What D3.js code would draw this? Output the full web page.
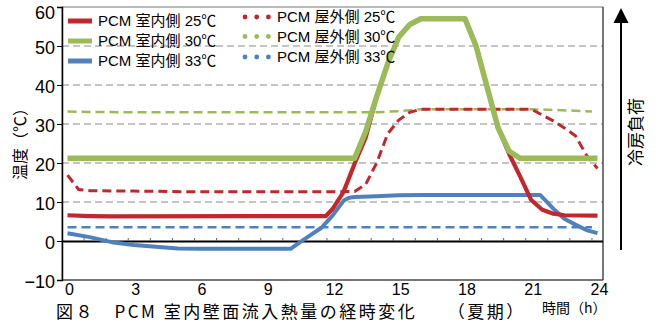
<!DOCTYPE html>
<html><head><meta charset="utf-8">
<script src="https://cdn.jsdelivr.net/npm/d3@7"></script>
<style>body{margin:0;background:#fff}svg{display:block}</style>
</head><body>
<svg id="c" width="659" height="323"></svg>
<script>
// ---- data ----
const xTicks = [0, 3, 6, 9, 12, 15, 18, 21, 24];
const yTicks = [-10, 0, 10, 20, 30, 40, 50, 60];
const gridValues = [10, 20, 30, 40, 50];
const hourMarks = d3.range(1, 25);

// indoor side (solid)
const in25 = [[0,6.6],[1,6.4],[2,6.3],[11.7,6.4],[12,8.2],[12.5,12.6],[13,19.8],[13.5,26.5],[14,37],[14.5,45.5],[15,52.3],[15.5,55.5],[16,57],[18,57],[18.5,50],[19,39.5],[19.5,29],[20,22.3],[20.5,16.5],[21,10.5],[21.5,8],[22,7],[22.5,6.6],[24,6.5]];
const in30 = [[0,21.2],[13,21.2],[13.5,28],[14,37],[14.5,45.5],[15,52.3],[15.5,55.5],[16,57],[18,57],[18.5,50],[19,39.5],[19.5,29],[20,23],[20.5,21.2],[24,21.2]];
const in33 = [[0,2],[1,1],[2,-0.3],[3,-1],[4,-1.5],[5,-1.9],[6,-2],[10.1,-2],[10.5,-0.4],[11,1.5],[11.5,3.4],[12,6.5],[12.5,10.3],[12.75,11.1],[13,11.3],[14,11.5],[15,11.7],[16,11.8],[21.4,11.8],[22,8.3],[22.5,5.7],[23,4.2],[23.5,2.8],[24,2.0]];
// outdoor side (dashed)
const out25 = [[0,16.9],[0.5,13.2],[1,12.9],[3,12.8],[6,12.6],[12,12.6],[13,12.7],[13.5,14.5],[14,20],[14.5,27.5],[15,31],[15.5,33],[16,33.8],[21,33.8],[21.5,32.3],[22,30.8],[22.5,29],[23,27],[23.5,22],[24,18.6]];
const out30 = [[0,33.2],[1,33.1],[3,33],[14,33],[15,33.3],[16,33.8],[21,33.8],[22,33.6],[23,33.4],[23.75,33.2]];
const out33 = [[0,3.5],[23.75,3.5]];

const solidNames = ["PCM 室内側 25℃", "PCM 室内側 30℃", "PCM 室内側 33℃"];
const dashNames  = ["PCM 屋外側 25℃", "PCM 屋外側 30℃", "PCM 屋外側 33℃"];
const colors = ["#c1272d", "#9bbb59", "#4f81bd"];

// ---- layout ----
const svg = d3.select("#c");
const L = 62, R = 603, T = 7, B = 280;
const x = d3.scaleLinear().domain([-0.25, 24.25]).range([L, R]);
const y = d3.scaleLinear().domain([-10, 60]).range([B, T]);
const latin = "'Liberation Sans Narrow','Liberation Sans','Noto Sans CJK JP',sans-serif";
const mixed = "'Liberation Sans','Noto Sans CJK JP',sans-serif";
const cjk = "'Noto Sans CJK JP',sans-serif";

// grid
svg.append("g").selectAll("line").data(gridValues).join("line")
  .attr("x1", L).attr("x2", R).attr("y1", d => y(d)).attr("y2", d => y(d))
  .attr("stroke", "#8a8a8a").attr("stroke-width", 1).attr("stroke-dasharray", "7,4");

// frame
svg.append("rect").attr("x", L).attr("y", T).attr("width", R - L).attr("height", B - T)
  .attr("fill", "none").attr("stroke", "#777").attr("stroke-width", 1);
svg.append("line").attr("x1", R).attr("x2", R).attr("y1", T).attr("y2", B).attr("stroke", "#333");
svg.append("line").attr("x1", L).attr("x2", R).attr("y1", B).attr("y2", B).attr("stroke", "#333");

// zero line and hour marks
svg.append("line").attr("x1", L).attr("x2", R).attr("y1", y(0) + 0.5).attr("y2", y(0) + 0.5)
  .attr("stroke", "#000").attr("stroke-width", 2);
svg.append("g").selectAll("line").data(hourMarks).join("line")
  .attr("x1", d => x(d - 0.25)).attr("x2", d => x(d - 0.25))
  .attr("y1", y(0)).attr("y2", y(0) - 3).attr("stroke", "#666").attr("stroke-width", 1);

// left axis
const yAxis = d3.axisLeft(y).tickValues(yTicks).tickSize(5).tickFormat(d => d < 0 ? "−" + Math.abs(d) : d);
const gy = svg.append("g").attr("transform", `translate(${L},0)`).call(yAxis);
gy.select(".domain").attr("stroke", "#000").attr("stroke-width", 1.5);
gy.selectAll(".tick line").attr("stroke", "#000");
gy.selectAll(".tick text").attr("font-family", latin).attr("font-size", 18).attr("fill", "#000")
  .attr("x", -7).attr("dy", "0.36em")
  .attr("y", d => Math.min(Math.max(y(d) + 1, 12), 286) - y(d));

// x labels
svg.append("g").selectAll("text").data(xTicks).join("text")
  .attr("x", d => x(d) + 2).attr("y", 295).attr("text-anchor", "middle")
  .attr("font-family", latin).attr("font-size", 16).attr("fill", "#000").text(d => d);

// series
const line = d3.line().x(d => x(d[0])).y(d => y(d[1]));
const dashed = [out33, out30, out25];
const dashColors = [colors[2], colors[1], colors[0]];
dashed.forEach((s, i) => {
  svg.append("path").datum(s).attr("d", line).attr("fill", "none")
    .attr("stroke", dashColors[i]).attr("stroke-width", i === 2 ? 3 : 2.5)
    .attr("stroke-dasharray", "9,5");
});
const solids = [[in33, colors[2], 4], [in25, colors[0], 4.2], [in30, colors[1], 5.5]];
solids.forEach(([s, c, w]) => {
  svg.append("path").datum(s).attr("d", line).attr("fill", "none")
    .attr("stroke", c).attr("stroke-width", w).attr("stroke-linejoin", "round");
});

// legend
const legRowsL = [21, 41, 61];
solidNames.forEach((n, i) => {
  svg.append("line").attr("x1", 68).attr("x2", 92).attr("y1", legRowsL[i]).attr("y2", legRowsL[i])
    .attr("stroke", colors[i]).attr("stroke-width", 5);
  svg.append("text").attr("x", 98).attr("y", legRowsL[i]).attr("dy", "0.36em")
    .attr("font-family", mixed).attr("font-size", 15).attr("fill", "#000").text(n);
});
const legRowsR = [17, 36.5, 57];
dashNames.forEach((n, i) => {
  svg.append("g").selectAll("circle").data([0, 1, 2]).join("circle")
    .attr("cx", k => 245 + k * 11.7).attr("cy", legRowsR[i]).attr("r", 2.4).attr("fill", colors[i]);
  svg.append("text").attr("x", 277).attr("y", legRowsR[i]).attr("dy", "0.36em")
    .attr("font-family", mixed).attr("font-size", 15).attr("fill", "#000").text(n);
});

// y-axis title
svg.append("text").attr("transform", "translate(20,140) rotate(-90)")
  .attr("text-anchor", "middle").attr("dy", "0.36em")
  .attr("font-family", cjk).attr("font-size", 16).attr("fill", "#000").text("温度（℃）");

// right arrow + label
svg.append("line").attr("x1", 621).attr("x2", 621).attr("y1", 250).attr("y2", 20)
  .attr("stroke", "#000").attr("stroke-width", 2);
svg.append("path").attr("d", "M621,8 L628.5,23 L613.5,23 Z").attr("fill", "#000");
svg.append("text").attr("transform", "translate(636,132) rotate(-90)")
  .attr("text-anchor", "middle").attr("dy", "0.36em")
  .attr("font-family", cjk).attr("font-size", 17).attr("fill", "#000").text("冷房負荷");

// bottom texts
svg.append("text").attr("x", 542).attr("y", 313)
  .attr("font-family", cjk).attr("font-size", 14).attr("fill", "#000").text("時間（h）");
svg.append("text").attr("x", 56).attr("y", 318)
  .attr("font-family", cjk).attr("font-size", 17).attr("letter-spacing", 2.5).attr("fill", "#000")
  .text("図８　PCM 室内壁面流入熱量の経時変化　　（夏期）");
</script>
</body></html>
